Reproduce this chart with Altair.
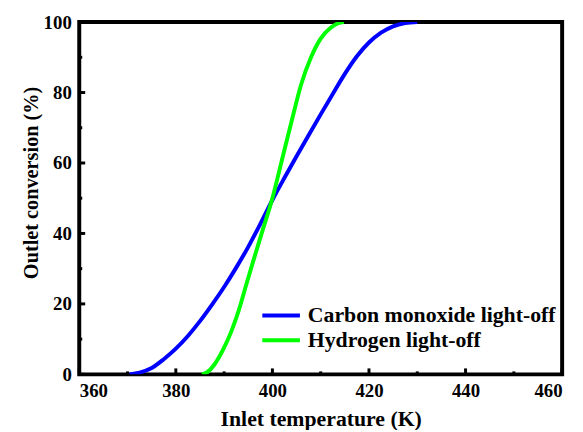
import altair as alt
import pandas as pd

# Carbon monoxide light-off (blue)
co_temp = [370.4, 372.5, 375, 377.5, 380, 382.5, 385, 387.5, 390, 392.5, 395, 397.5,
           400, 402.5, 405, 407.5, 410, 412.5, 415, 417.5, 420, 422.5, 425, 427.5, 430]
co_conv = [0, 0.5, 1.8, 4.3, 7.3, 10.9, 15.1, 19.8, 24.8, 30.3, 36.2, 42.7,
           49.5, 55.8, 61.9, 67.9, 73.8, 79.6, 85.3, 90.3, 94.2, 97.0, 98.8, 99.7, 100]

# Hydrogen light-off (green)
h2_temp = [385.4, 386.5, 388, 389, 390, 391.5, 393, 394.7, 396, 398, 400, 402, 404, 406,
           408, 410, 412, 413.5, 414.8]
h2_conv = [0, 0.6, 2.8, 5.0, 7.6, 12.2, 18, 26, 32, 41, 50, 61, 72, 82.5,
           90, 95.3, 98.3, 99.6, 100]

series_names = ["Carbon monoxide light-off", "Hydrogen light-off"]
series_colors = ["#0000ff", "#00ff00"]

x_major = [360, 380, 400, 420, 440, 460]
x_minor = [370, 390, 410, 430, 450]
y_major = [0, 20, 40, 60, 80, 100]
y_minor = [10, 30, 50, 70, 90]

df = pd.concat([
    pd.DataFrame({"T": co_temp, "C": co_conv, "s": series_names[0], "o": range(len(co_temp))}),
    pd.DataFrame({"T": h2_temp, "C": h2_conv, "s": series_names[1], "o": range(len(h2_temp))}),
])

W, H = 488, 356
FONT = "Liberation Serif"

xscale = alt.Scale(domain=[360, 460], nice=False)
yscale = alt.Scale(domain=[0, 100], nice=False)

lines = alt.Chart(df).mark_line(strokeWidth=4, interpolate="monotone", clip=True).encode(
    x=alt.X("T:Q", scale=xscale,
            axis=alt.Axis(title="Inlet temperature (K)", values=x_major, ticks=False, domain=False,
                          grid=False, labelPadding=7, titlePadding=9, titleFontSize=22)),
    y=alt.Y("C:Q", scale=yscale,
            axis=alt.Axis(title="Outlet conversion (%)", values=y_major, ticks=False, domain=False,
                          grid=False, labelPadding=8, titleFontSize=20.5, titleAngle=270,
                          titleAlign="center", titleBaseline="alphabetic",
                          titleX=-42, titleY=162)),
    color=alt.Color("s:N", scale=alt.Scale(domain=series_names, range=series_colors),
                    legend=alt.Legend(title=None, orient="none", legendX=183, legendY=284,
                                      symbolType="stroke", symbolSize=1444, symbolStrokeWidth=4,
                                      labelFontSize=22, labelFont=FONT, labelFontWeight="bold",
                                      labelColor="black", clipHeight=25,
                                      labelLimit=400, labelOffset=6, rowPadding=0)),
    order="o:Q",
)

def xticks(vals, length):
    return alt.Chart(pd.DataFrame({"v": vals})).mark_rule(color="black", strokeWidth=3).encode(
        x=alt.X("v:Q", scale=xscale), y=alt.value(H), y2=alt.value(H - length))

def yticks(vals, length):
    return alt.Chart(pd.DataFrame({"v": vals})).mark_rule(color="black", strokeWidth=3).encode(
        y=alt.Y("v:Q", scale=yscale), x=alt.value(0), x2=alt.value(length))

chart = alt.layer(
    lines, xticks(x_major, 6), xticks(x_minor, 3), yticks(y_major, 6), yticks(y_minor, 3)
).properties(
    width=W, height=H,
    autosize=alt.AutoSizeParams(type="none"),
    padding={"left": 72, "top": 12, "right": 13, "bottom": 54},
).configure_view(
    stroke="black", strokeWidth=4
).configure_axis(
    labelFont=FONT, labelFontSize=19, labelFontWeight="bold", labelColor="black",
    titleFont=FONT, titleFontSize=22, titleFontWeight="bold", titleColor="black",
)

chart.save("out.html", embed_options={"renderer": "svg", "actions": False})
